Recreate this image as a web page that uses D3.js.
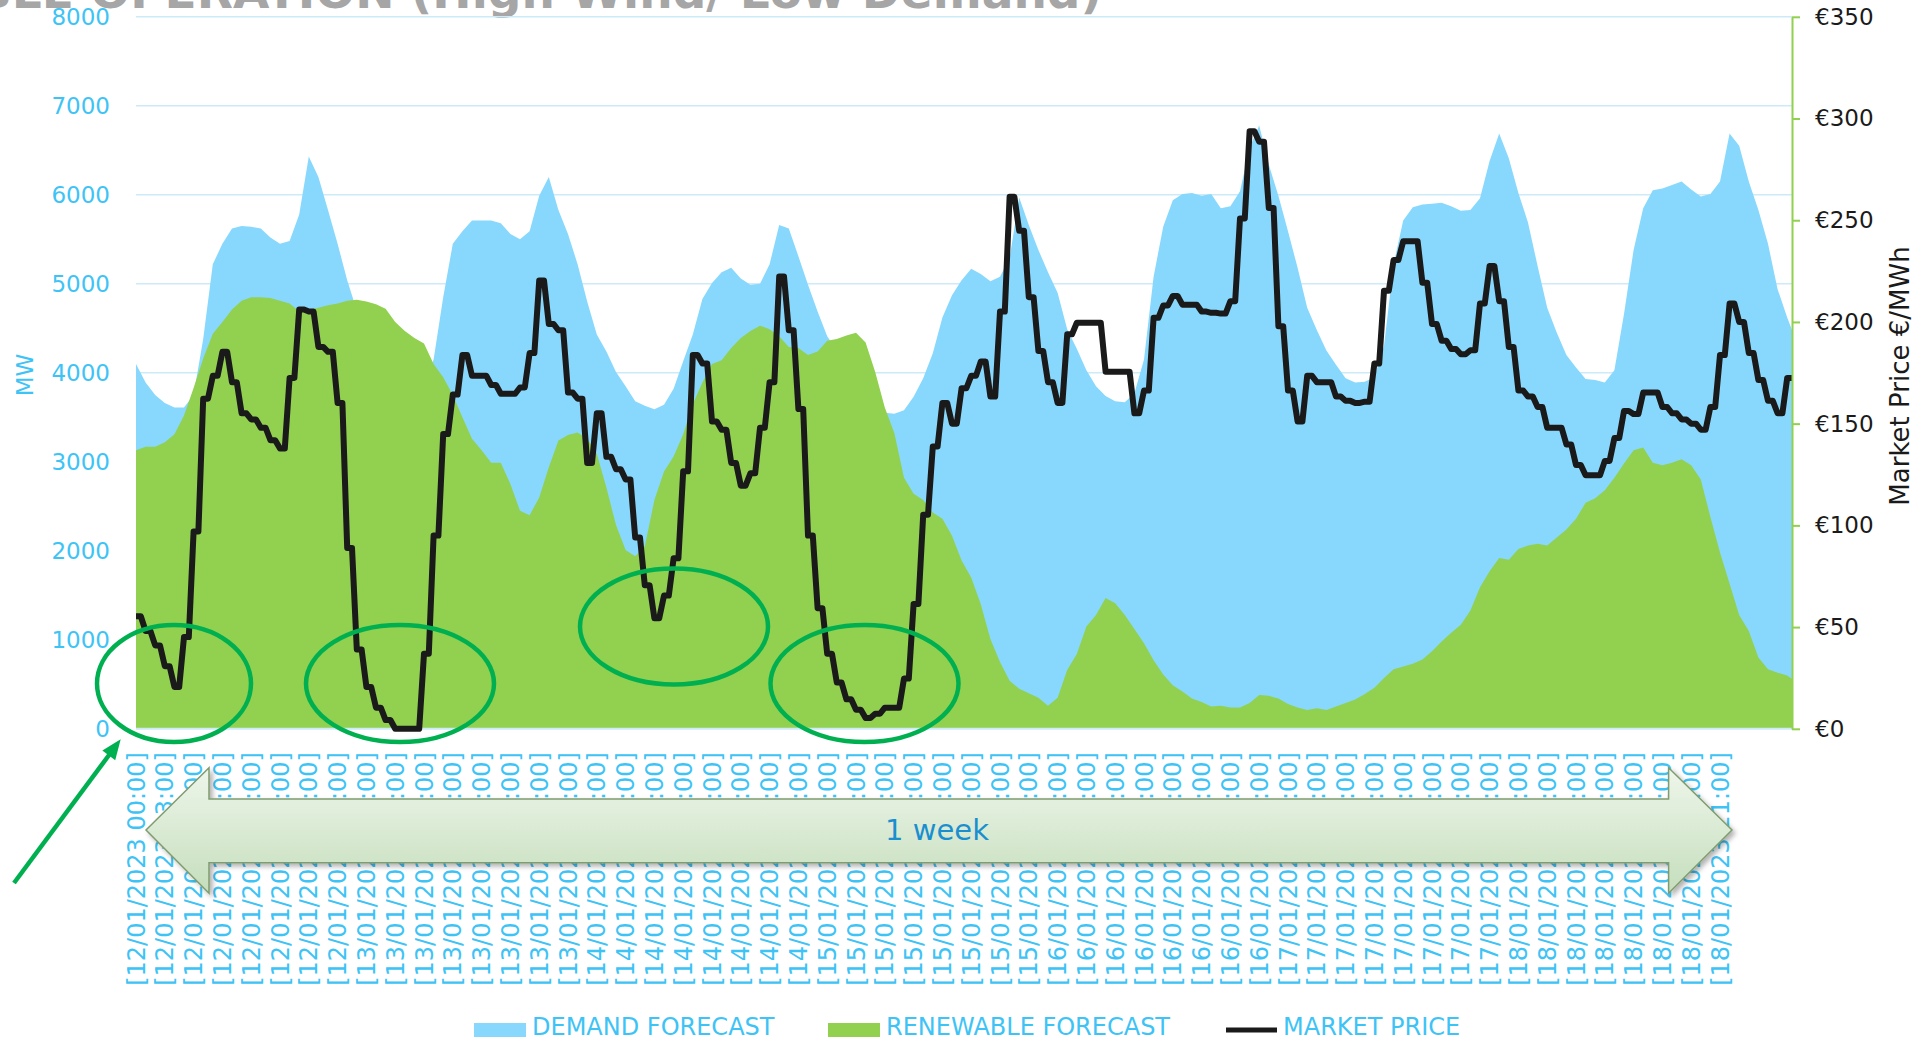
<!DOCTYPE html>
<html><head><meta charset="utf-8">
<script src="https://cdn.jsdelivr.net/npm/d3@7"></script>
<style>
body{margin:0;background:#fff;}
svg{display:block;font-family:"DejaVu Sans",Verdana,sans-serif;}
</style>
</head><body>
<svg id="chart" width="1926" height="1041"></svg>
<script>
// ---------------- DATA ----------------
// Hourly samples from 12/01/2023 00:00; the last value is the final half-hour (19/01 04:30)
const demandMW = [
4100,3890,3750,3660,3610,3610,3750,4380,5220,5450,
5620,5650,5640,5620,5520,5450,5480,5780,6430,6200,
5830,5450,5040,4700,4450,4250,4100,3950,3850,3800,
3850,4150,4850,5450,5590,5710,5710,5710,5680,5560,
5500,5590,5990,6200,5830,5560,5220,4800,4430,4240,
4010,3850,3680,3630,3590,3640,3820,4130,4430,4830,
5010,5130,5180,5060,4990,5000,5220,5660,5620,5310,
4990,4690,4410,4250,4100,3950,3800,3700,3550,3540,
3580,3730,3940,4220,4620,4870,5040,5170,5110,5030,
5080,5290,5970,5660,5380,5130,4900,4490,4270,4030,
3850,3740,3680,3670,3770,4150,5080,5640,5940,6010,
6020,5990,6010,5850,5870,6040,6530,6780,6340,5990,
5590,5180,4730,4480,4250,4090,3940,3890,3900,3950,
4300,5220,5710,5860,5890,5900,5910,5870,5820,5830,
5960,6380,6690,6410,6020,5690,5200,4730,4450,4200,
4060,3930,3920,3890,4030,4660,5380,5850,6050,6070,
6110,6150,6060,5980,6010,6150,6690,6550,6150,5830,
5450,4940,4620,4480];
const renewableMW = [
3130,3170,3170,3220,3310,3520,3830,4160,4440,4570,
4710,4810,4850,4850,4840,4810,4780,4690,4710,4730,
4760,4780,4810,4820,4800,4770,4720,4570,4470,4390,
4330,4100,3950,3750,3500,3260,3130,2990,2990,2750,
2450,2400,2600,2940,3240,3300,3330,3260,3090,2710,
2290,2010,1940,2050,2570,2890,3060,3310,3650,3890,
4100,4140,4280,4390,4470,4530,4490,4410,4290,4280,
4200,4240,4360,4380,4420,4450,4340,4010,3610,3320,
2820,2640,2570,2430,2360,2170,1890,1700,1400,1010,
750,540,450,400,350,260,350,660,840,1150,
1280,1470,1410,1280,1120,960,770,610,490,420,
340,300,250,260,240,240,290,380,370,340,
280,240,210,230,210,250,290,330,390,460,
570,670,700,730,780,870,980,1080,1170,1330,
1590,1770,1920,1900,2020,2060,2080,2060,2150,2240,
2360,2540,2590,2680,2820,2980,3130,3160,2990,2960,
2990,3030,2960,2800,2380,1980,1630,1280,1100,800,
670,630,600,560];
// Hourly market price (EUR/MWh), each hour held over its two half-hour slots
const priceEUR = [
55.3,48.1,41.0,30.8,20.6,45.1,97.0,162.3,173.5,185.3,
170.4,155.1,152.1,148.0,141.9,137.8,172.5,206.1,205.1,187.7,
185.3,160.2,88.9,39.0,20.6,10.4,4.3,0,0,0,
36.9,95.0,144.9,164.3,183.7,173.5,173.5,169.0,164.7,164.7,
167.8,184.7,220.4,199.0,195.9,165.3,162.3,130.7,155.1,133.7,
127.6,122.5,94.0,70.6,54.3,65.5,83.8,126.6,183.7,179.6,
151.1,147.0,130.7,119.5,125.6,148.0,170.4,222.4,195.9,157.2,
95.0,59.3,36.9,22.7,14.5,9.4,5.3,7.4,10.4,10.4,
24.7,61.4,105.2,138.8,160.2,150.0,167.4,173.5,180.6,163.3,
205.1,261.5,244.8,212.2,185.7,170.4,160.2,193.9,199.6,199.6,
199.6,175.5,175.5,175.5,155.1,166.3,202.0,208.1,212.8,208.5,
208.5,205.1,204.5,204.1,210.2,250.9,293.7,288.6,256.0,197.9,
166.3,151.1,173.5,170.4,170.4,163.3,161.2,160.2,160.8,179.6,
215.3,230.5,239.7,239.7,219.3,199.0,190.8,186.7,184.1,186.1,
209.1,227.5,210.2,187.7,166.3,163.3,158.2,148.0,148.0,139.8,
129.7,124.6,124.6,131.7,142.9,156.2,154.7,165.3,165.3,158.2,
155.1,152.1,150.0,147.0,158.2,183.7,209.1,200.0,184.7,171.4,
161.2,155.1,172.5];
const mwTicks = [0,1000,2000,3000,4000,5000,6000,7000,8000];
const priceTicks = [0,50,100,150,200,250,300,350];
const labelDays = ["12","13","14","15","16","17","18"];
const labelHours = ["00","03","06","09","12","15","18","21"];
const categoryLabels = labelDays.flatMap(d => labelHours.map(h => `[${d}/01/2023 ${h}:00]`));
const labelStepHours = 3;
const legendItems = ["DEMAND FORECAST","RENEWABLE FORECAST","MARKET PRICE"];
const titleText = "FLEXIBLE OPERATION (High Wind/ Low Demand)";
const leftAxisTitle = "MW";
const rightAxisTitle = "Market Price €/MWh";
const spanLabel = "1 week";

// ---------------- LAYOUT ----------------
const plot = {left: 136, right: 1792, top: 16.8, bottom: 728.8};
const C = {
  demand: "#88D8FD", renew: "#92D050", price: "#1a1a1a",
  blueText: "#3EC3F6", grid: "#cdeaf8", axisGreen: "#92D050",
  annot: "#00B050", title: "#A6A6A6"
};

const svg = d3.select("#chart");
const defs = svg.append("defs");

const lastHour = 172.5;
const sampleHours = demandMW.map((_, i) => i < demandMW.length - 1 ? i : lastHour);

const x = d3.scaleLinear().domain([0, lastHour]).range([plot.left, plot.right]);
const yL = d3.scaleLinear().domain([0, 8000]).range([plot.bottom, plot.top]);
const yR = d3.scaleLinear().domain([0, 350]).range([plot.bottom, plot.top]);

// Title (partially cut at the top, as in the source slide)
svg.append("text").attr("x", 1102).attr("y", 8)
  .attr("text-anchor", "end").attr("font-weight", "bold").attr("font-size", 47)
  .attr("fill", C.title).text(titleText);

// gridlines
svg.append("g").selectAll("line").data(mwTicks.filter(t => t > 0)).join("line")
  .attr("x1", plot.left).attr("x2", plot.right)
  .attr("y1", d => yL(d)).attr("y2", d => yL(d))
  .attr("stroke", C.grid).attr("stroke-width", 1.5);

// areas
const areaGen = vals => d3.area()
  .x((d, i) => x(sampleHours[i])).y0(yL(0)).y1(d => yL(d))(vals);
svg.append("path").attr("d", areaGen(demandMW)).attr("fill", C.demand);
svg.append("path").attr("d", areaGen(renewableMW)).attr("fill", C.renew);

// category axis baseline
svg.append("line").attr("x1", plot.left).attr("x2", plot.right)
  .attr("y1", yL(0)).attr("y2", yL(0)).attr("stroke", C.grid).attr("stroke-width", 2);

// price line
const pricePts = priceEUR.flatMap((v, k) => [[k, v], [k + 0.5, v]]);
svg.append("path")
  .attr("d", d3.line().x(d => x(d[0])).y(d => yR(d[1]))(pricePts))
  .attr("fill", "none").attr("stroke", C.price).attr("stroke-width", 6)
  .attr("stroke-linejoin", "round");

// left axis (labels only)
const gL = svg.append("g").attr("transform", `translate(${plot.left},0)`)
  .call(d3.axisLeft(yL).tickValues(mwTicks).tickSize(0).tickPadding(26).tickFormat(d3.format("d")));
gL.select(".domain").remove();
gL.selectAll("text").attr("font-size", 23).attr("fill", C.blueText)
  .attr("font-family", "DejaVu Sans, Verdana, sans-serif");

// right axis
const gR = svg.append("g").attr("transform", `translate(${plot.right},0)`)
  .call(d3.axisRight(yR).tickValues(priceTicks).tickSize(8).tickSizeOuter(0).tickPadding(15)
    .tickFormat(d => "€" + d));
gR.select(".domain").attr("stroke", C.axisGreen).attr("stroke-width", 2);
gR.selectAll(".tick line").attr("stroke", C.axisGreen).attr("stroke-width", 2);
gR.selectAll("text").attr("font-size", 23).attr("fill", "#1a1a1a")
  .attr("font-family", "DejaVu Sans, Verdana, sans-serif");

// axis titles
svg.append("text").attr("transform", `translate(25,375) rotate(-90)`)
  .attr("text-anchor", "middle").attr("dy", "0.35em")
  .attr("font-size", 23).attr("fill", C.blueText).text(leftAxisTitle);
svg.append("text").attr("transform", `translate(1900,376) rotate(-90)`)
  .attr("text-anchor", "middle").attr("dy", "0.35em")
  .attr("font-size", 26).attr("fill", "#1a1a1a").text(rightAxisTitle);

// category labels
svg.append("g").selectAll("text").data(categoryLabels).join("text")
  .attr("transform", (d, i) => `translate(${x(i * labelStepHours)},752) rotate(-90)`)
  .attr("text-anchor", "end").attr("dy", "0.36em")
  .attr("font-size", 24).attr("fill", C.blueText).text(d => d);

// ---------------- ANNOTATIONS ----------------
const ellipses = [
  {cx: 174, cy: 683.5, rx: 77, ry: 58.5},
  {cx: 400, cy: 683.5, rx: 94, ry: 58.5},
  {cx: 674, cy: 626.5, rx: 94, ry: 58},
  {cx: 864.5, cy: 683.5, rx: 94, ry: 58.5}
];
svg.append("g").selectAll("ellipse").data(ellipses).join("ellipse")
  .attr("cx", d => d.cx).attr("cy", d => d.cy).attr("rx", d => d.rx).attr("ry", d => d.ry)
  .attr("fill", "none").attr("stroke", C.annot).attr("stroke-width", 4.5);

// green pointer arrow
{
  const tail = [14, 883], tip = [120.7, 739.3];
  const dx = tip[0] - tail[0], dy = tip[1] - tail[1], len = Math.hypot(dx, dy);
  const u = [dx / len, dy / len], n = [-u[1], u[0]];
  const hl = 20, hw = 8;
  const base = [tip[0] - hl * u[0], tip[1] - hl * u[1]];
  svg.append("line").attr("x1", tail[0]).attr("y1", tail[1])
    .attr("x2", base[0] + 2 * u[0]).attr("y2", base[1] + 2 * u[1])
    .attr("stroke", C.annot).attr("stroke-width", 4.5);
  svg.append("polygon").attr("points", [
    tip, [base[0] + hw * n[0], base[1] + hw * n[1]], [base[0] - hw * n[0], base[1] - hw * n[1]]
  ].map(p => p.join(",")).join(" ")).attr("fill", C.annot);
}

// "1 week" double arrow
const grad = defs.append("linearGradient").attr("id", "wkGrad")
  .attr("x1", 0).attr("y1", 0).attr("x2", 0).attr("y2", 1);
grad.append("stop").attr("offset", "0%").attr("stop-color", "#EEF6EB");
grad.append("stop").attr("offset", "100%").attr("stop-color", "#C5DEBC");
const sh = defs.append("filter").attr("id", "shadow").attr("x", "-5%").attr("y", "-20%")
  .attr("width", "110%").attr("height", "150%");
sh.append("feDropShadow").attr("dx", 3).attr("dy", 3).attr("stdDeviation", 2.5)
  .attr("flood-color", "#000").attr("flood-opacity", 0.3);
const A = {l: 146, r: 1732, hl: 209, hr: 1668.6, cy: 830, st: 799, sb: 862.7, ht: 767.7, hb: 893.3};
svg.append("polygon").attr("points", [
  [A.l, A.cy], [A.hl, A.ht], [A.hl, A.st], [A.hr, A.st], [A.hr, A.ht], [A.r, A.cy],
  [A.hr, A.hb], [A.hr, A.sb], [A.hl, A.sb], [A.hl, A.hb]
].map(p => p.join(",")).join(" "))
  .attr("fill", "url(#wkGrad)").attr("stroke", "#7F9C6F").attr("stroke-width", 1.5)
  .attr("filter", "url(#shadow)");
svg.append("text").attr("x", 937).attr("y", 830).attr("dy", "0.35em")
  .attr("text-anchor", "middle").attr("font-size", 29).attr("fill", "#1A8FD0").text(spanLabel);

// ---------------- LEGEND ----------------
const lg = svg.append("g");
lg.append("rect").attr("x", 474).attr("y", 1023).attr("width", 52).attr("height", 14).attr("fill", C.demand);
lg.append("rect").attr("x", 828).attr("y", 1023).attr("width", 52).attr("height", 14).attr("fill", C.renew);
lg.append("line").attr("x1", 1226).attr("x2", 1277).attr("y1", 1030).attr("y2", 1030)
  .attr("stroke", C.price).attr("stroke-width", 5);
lg.selectAll("text").data(legendItems).join("text")
  .attr("x", (d, i) => [532, 886, 1283][i]).attr("y", 1035)
  .attr("font-size", 24).attr("fill", C.blueText).text(d => d);
</script>
</body></html>
